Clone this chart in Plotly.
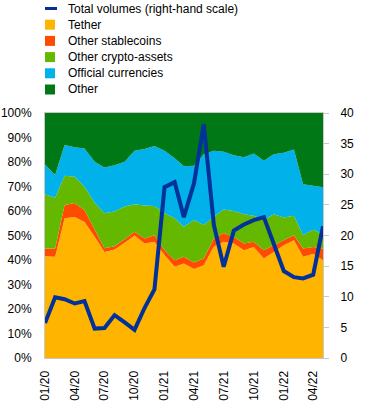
import plotly.graph_objects as go

months = [
    "2020-01-01", "2020-02-01", "2020-03-01", "2020-04-01", "2020-05-01", "2020-06-01",
    "2020-07-01", "2020-08-01", "2020-09-01", "2020-10-01", "2020-11-01", "2020-12-01",
    "2021-01-01", "2021-02-01", "2021-03-01", "2021-04-01", "2021-05-01", "2021-06-01",
    "2021-07-01", "2021-08-01", "2021-09-01", "2021-10-01", "2021-11-01", "2021-12-01",
    "2022-01-01", "2022-02-01", "2022-03-01", "2022-04-01", "2022-05-01",
]

tether = [41.5, 41.3, 57.0, 57.6, 55.5, 49.5, 43.3, 44.3, 47.0, 50.0, 46.7, 47.4,
          42.0, 37.2, 38.6, 36.3, 37.9, 45.5, 47.4, 46.7, 44.0, 45.3, 40.6, 43.3,
          46.0, 48.1, 41.3, 42.6, 39.9]
other_stablecoins = [3.2, 3.4, 5.4, 5.7, 4.8, 3.0, 1.5, 1.3, 1.5, 1.5, 2.1, 2.7,
                     2.0, 2.7, 2.7, 2.7, 2.7, 3.3, 3.6, 2.7, 2.7, 2.1, 3.4, 2.7,
                     2.1, 2.0, 3.4, 2.7, 4.8]
other_crypto = [22.1, 20.7, 12.0, 10.7, 9.6, 10.9, 14.3, 14.2, 13.3, 11.3, 13.4, 11.9,
                15.1, 17.1, 12.3, 17.3, 13.7, 8.9, 9.6, 10.6, 12.0, 10.7, 12.3, 12.7,
                9.2, 8.0, 5.5, 7.0, 5.8]
official_currencies = [12.2, 9.3, 12.5, 12.0, 15.6, 16.7, 18.7, 18.9, 18.3, 21.8, 23.1, 24.5,
                       25.5, 24.5, 24.7, 22.2, 28.9, 26.9, 23.6, 22.8, 23.2, 25.4, 24.2, 24.5,
                       26.5, 27.0, 20.7, 18.0, 19.2]
other = [21.0, 25.3, 13.1, 14.0, 14.5, 19.9, 22.2, 21.3, 19.9, 15.4, 14.7, 13.5,
         15.4, 18.5, 21.7, 21.5, 16.8, 15.4, 15.8, 17.2, 18.1, 16.5, 19.5, 16.8,
         16.2, 14.9, 29.1, 29.7, 30.3]
total_volumes = [5.7, 9.9, 9.6, 8.9, 9.3, 4.8, 4.9, 7.0, 5.8, 4.6, 8.2, 11.2,
                 27.9, 28.7, 23.0, 28.5, 38.2, 21.7, 14.9, 20.8, 21.8, 22.5, 23.0, 18.5,
                 14.2, 13.2, 13.0, 13.6, 21.5]

legend_labels = ["Total volumes (right-hand scale)", "Tether", "Other stablecoins",
                 "Other crypto-assets", "Official currencies", "Other"]

FONT = "Liberation Sans, Arial, sans-serif"
C_LINE = "#003299"
area_series = [
    ("Tether", tether, "#FFB400"),
    ("Other stablecoins", other_stablecoins, "#FF4B00"),
    ("Other crypto-assets", other_crypto, "#65B800"),
    ("Official currencies", official_currencies, "#00B1EA"),
    ("Other", other, "#007816"),
]

fig = go.Figure()
for name, vals, col in area_series:
    fig.add_trace(go.Scatter(
        x=months, y=vals, name=name, stackgroup="one", mode="none",
        fillcolor=col, line=dict(width=0), showlegend=False, hoverinfo="skip",
    ))

fig.add_trace(go.Scatter(
    x=months, y=total_volumes, name=legend_labels[0], mode="lines",
    line=dict(color=C_LINE, width=4), yaxis="y2", showlegend=False, hoverinfo="skip",
))

# Manual legend (pixel layout converted to paper coordinates)
W, H = 366, 403
L, R, T, B = 45, 43, 113, 45
pw, ph = W - L - R, H - T - B

def px_x(x):
    return (x - L) / pw

def px_y(y):
    return (H - B - y) / ph

shapes = []
annotations = []
colors = [C_LINE] + [c for _, _, c in area_series]
for k, lab in enumerate(legend_labels):
    yc = 8.5 + 16.2 * k
    if k == 0:
        shapes.append(dict(type="line", xref="paper", yref="paper",
                           x0=px_x(45), x1=px_x(57), y0=px_y(yc), y1=px_y(yc),
                           line=dict(color=colors[k], width=3)))
    else:
        shapes.append(dict(type="rect", xref="paper", yref="paper",
                           x0=px_x(45), x1=px_x(55), y0=px_y(yc - 5), y1=px_y(yc + 5),
                           fillcolor=colors[k], line=dict(width=0)))
    annotations.append(dict(xref="paper", yref="paper", x=px_x(66), y=px_y(yc),
                            text=lab, showarrow=False, xanchor="left", yanchor="middle",
                            font=dict(family=FONT, size=12, color="#000000")))

axis_line = "#C8C8C8"
fig.update_layout(
    width=W, height=H,
    margin=dict(l=L, r=R, t=T, b=B, pad=0, autoexpand=False),
    paper_bgcolor="white", plot_bgcolor="white",
    font=dict(family=FONT, size=12, color="#000000"),
    showlegend=False,
    shapes=shapes, annotations=annotations,
    xaxis=dict(
        type="date", range=["2020-01-01", "2022-05-01"], automargin=False,
        tick0="2020-01-01", dtick="M3", tickformat="%m/%y", tickangle=-90,
        showgrid=False, zeroline=False, showline=True, linecolor=axis_line, linewidth=1,
        mirror=True, ticks="", ticklabelstandoff=7,
    ),
    yaxis=dict(
        range=[0, 100], dtick=10, ticksuffix="%", showgrid=False, zeroline=False,
        automargin=False,
        showline=True, linecolor=axis_line, linewidth=1, ticks="", ticklabelstandoff=10,
    ),
    yaxis2=dict(
        range=[0, 40], dtick=5, overlaying="y", side="right", showgrid=False,
        automargin=False,
        zeroline=False, showline=True, linecolor=axis_line, linewidth=1,
        ticks="outside", ticklen=5, tickcolor=axis_line, ticklabelstandoff=9,
    ),
)

fig.write_html(
    "out.html",
    config={"displayModeBar": False},
    post_script="document.body.style.margin='0';document.body.style.padding='0';",
)
